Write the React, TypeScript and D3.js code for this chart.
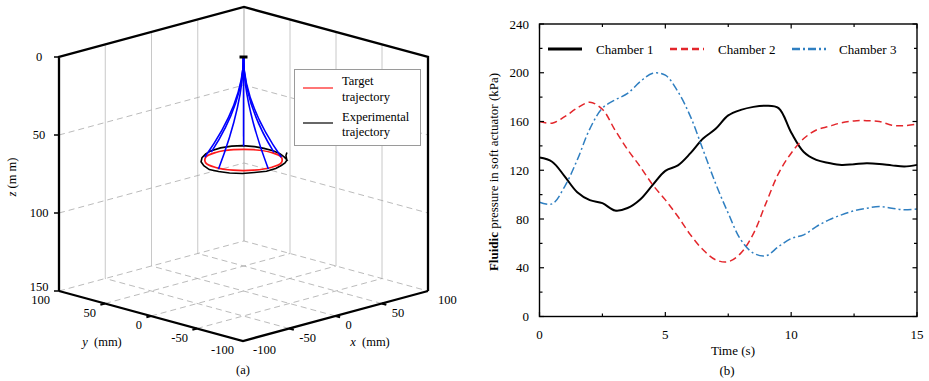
import React from 'react';
import * as d3 from 'd3';

const FONT = '"Liberation Serif", "Times New Roman", serif';

// ---------- (b) chamber pressures ----------
const time = [0, 0.5, 1, 1.5, 2, 2.5, 3, 3.5, 4, 4.5, 5, 5.5, 6, 6.5, 7, 7.5, 8, 8.5, 9, 9.5, 10, 10.5, 11, 11.5, 12, 12.5, 13, 13.5, 14, 14.5, 15];
const chamber1 = [130.4, 127, 115, 102, 95.5, 93, 87, 89, 96, 108, 119.5, 124, 134, 146, 154, 165, 169.5, 172, 173, 171, 151, 135, 128.5, 126, 124.4, 125, 125.7, 125.2, 124, 123, 124.4];
const chamber2 = [160, 158.6, 164, 171, 175.8, 170, 153, 137, 123, 108, 95.7, 82, 67, 54.7, 46.5, 45, 52, 68, 93, 117.5, 134, 146, 153, 156, 159, 160.5, 160.7, 160, 157, 156.6, 158];
const chamber3 = [93.8, 92.4, 106.6, 128.5, 154, 171, 177.7, 183, 192.7, 199.6, 198, 184.5, 164, 136.7, 109, 84.7, 62.9, 52, 49.8, 57.4, 64, 67, 73.8, 79.3, 83.4, 86.7, 88.8, 90.2, 88.8, 87.5, 88.3];
const seriesNames = ['Chamber 1', 'Chamber 2', 'Chamber 3'];
const pressureTicks = [0, 40, 80, 120, 160, 200, 240];
const pressureMinor = [20, 60, 100, 140, 180, 220];
const timeTicks = [0, 5, 10, 15];
const timeMinor = [2.5, 7.5, 12.5];

// ---------- (a) 3D trajectory ----------
const zTicks = [0, 50, 100, 150];
const yTickLabels = [100, 50, 0, -50, -100];
const xTickLabels = [-100, -50, 0, 50, 100];
const gridXY = [-50, 0, 50];
const gridZ = [50, 100];
const apex = { x: 0, y: 0, z: 0 };
const targetX = [30, 26, 15, 0, -15, -26, -30, -26, -15, 0, 15, 26];
const targetY = [0, 15, 26, 30, 26, 15, 0, -15, -26, -30, -26, -15];
const targetZ = 66;
const expX = [24, 28, 31, 33, 31, 28, 22, 15, 7, -2, -10, -18, -25, -30, -33, -32, -29, -23, -16, -7, 2, 11, 18, 23, 27, 29];
const expY = [-24, -16, -8, 1, 9, 16, 23, 28, 32, 33, 31, 27, 21, 13, 4, -5, -14, -22, -28, -32, -33, -30, -27, -24, -19, -18];
const expZ = [66.5, 66, 65.5, 65.5, 65, 64.5, 64, 64, 64.5, 65, 65.5, 66, 66.5, 67, 67.5, 67.5, 67.5, 67.5, 67, 67, 66.5, 66.5, 66.5, 66, 64.5, 63];
const tipX = [-5, -17, -30, 21, -3, 30, 26];
const tipY = [30, 25, -3, 21, -30, -3, -15];
const tipZ = [65, 65.5, 66.5, 64, 66.5, 65.5, 66];
const bendFraction = 0.45;

type P3 = [number, number, number];

function Panel3D() {
  const sxX = d3.scaleLinear().domain([-100, 100]).range([-92.5, 92.5]);
  const sxY = d3.scaleLinear().domain([-100, 100]).range([92, -92]);
  const syX = d3.scaleLinear().domain([-100, 100]).range([25, -25]);
  const syY = d3.scaleLinear().domain([-100, 100]).range([25, -25]);
  const syZ = d3.scaleLinear().domain([0, 150]).range([57, 291]);
  const cx = 243.5;
  const proj = (p: P3): [number, number] => [cx + sxX(p[0]) + sxY(p[1]), syZ(p[2]) + syX(p[0]) + syY(p[1])];
  const line3 = (pts: P3[]) => d3.line()(pts.map(proj)) as string;

  const grey = '#c8c8c8';
  const dashGrey = '#aaaaaa';

  const target: P3[] = targetX.map((x, i) => [x, targetY[i], targetZ]);
  const targetPath = d3.line().curve(d3.curveCatmullRomClosed)(target.map(proj)) as string;
  const exp: P3[] = expX.map((x, i) => [x, expY[i], expZ[i]]);
  const apexS = proj([apex.x, apex.y, apex.z]);

  const cones = tipX.map((x, i) => {
    const p = d3.path();
    const a = apexS;
    const c = proj([apex.x, apex.y, tipZ[i] * bendFraction]);
    const t = proj([x, tipY[i], tipZ[i]]);
    p.moveTo(a[0], a[1]);
    p.quadraticCurveTo(c[0], c[1], t[0], t[1]);
    return p.toString();
  });

  const fs = 12.5;
  return (
    <g fontFamily={FONT} fontSize={fs}>
      {/* wall vertical grid */}
      {gridXY.map((x) => (
        <path key={'wx' + x} d={line3([[x, 100, 0], [x, 100, 150]])} stroke={grey} strokeWidth={1} fill="none" />
      ))}
      {gridXY.map((y) => (
        <path key={'wy' + y} d={line3([[100, y, 0], [100, y, 150]])} stroke={grey} strokeWidth={1} fill="none" />
      ))}
      <path d={line3([[100, 100, 0], [100, 100, 150]])} stroke="#b5b5b5" strokeWidth={1.2} fill="none" />
      {/* wall horizontal grid */}
      {gridZ.map((z) => (
        <path key={'gz' + z} d={line3([[-100, 100, z], [100, 100, z], [100, -100, z]])} stroke={dashGrey} strokeWidth={0.8} strokeDasharray="6,4" fill="none" />
      ))}
      {/* floor grid */}
      {gridXY.map((x) => (
        <path key={'fx' + x} d={line3([[x, -100, 150], [x, 100, 150]])} stroke={dashGrey} strokeWidth={0.8} strokeDasharray="6,4" fill="none" />
      ))}
      {gridXY.map((y) => (
        <path key={'fy' + y} d={line3([[-100, y, 150], [100, y, 150]])} stroke={dashGrey} strokeWidth={0.8} strokeDasharray="6,4" fill="none" />
      ))}
      <path d={line3([[-100, 100, 150], [100, 100, 150], [100, -100, 150]])} stroke={dashGrey} strokeWidth={0.8} strokeDasharray="6,4" fill="none" />

      {/* box edges */}
      <path d={line3([[-100, 100, 150], [-100, 100, 0], [100, 100, 0], [100, -100, 0], [100, -100, 150]])} stroke="#000" strokeWidth={2.3} fill="none" strokeLinejoin="miter" />
      <path d={line3([[-100, 100, 150], [-100, -100, 150], [100, -100, 150]])} stroke="#000" strokeWidth={2.3} fill="none" />

      {/* z ticks */}
      {zTicks.map((z) => {
        const [sx, sy] = proj([-100, 100, z]);
        return (
          <g key={'zt' + z}>
            <line x1={sx - 5} x2={sx} y1={sy} y2={sy} stroke="#000" strokeWidth={1.5} />
            <text x={39} y={sy + (z === 150 ? -4 : 0)} dy="0.35em" textAnchor="middle">{z}</text>
          </g>
        );
      })}
      {/* y ticks along left floor edge */}
      {yTickLabels.map((y) => {
        const a = proj([-100, y, 150]);
        const b = proj([-105, y, 150]);
        return (
          <g key={'yt' + y}>
            {Math.abs(y) < 100 && <line x1={a[0]} y1={a[1]} x2={b[0]} y2={b[1]} stroke="#000" strokeWidth={2} />}
            <text x={a[0] - 9} y={a[1] + 9} dy="0.35em" textAnchor="end">{y}</text>
          </g>
        );
      })}
      {xTickLabels.map((x) => {
        const a = proj([x, -100, 150]);
        const b = proj([x, -105, 150]);
        return (
          <g key={'xt' + x}>
            {Math.abs(x) < 100 && <line x1={a[0]} y1={a[1]} x2={b[0]} y2={b[1]} stroke="#000" strokeWidth={2} />}
            <text x={a[0] + 10} y={a[1] + 9} dy="0.35em" textAnchor="start">{x}</text>
          </g>
        );
      })}

      {/* trajectories */}
      <path d={line3(exp)} stroke="#000" strokeWidth={1.6} fill="none" />
      <path d={targetPath} stroke="#ff1a1a" strokeWidth={1.7} fill="none" />
      {cones.map((d, i) => (
        <path key={'c' + i} d={d} stroke="#0000ff" strokeWidth={1.6} fill="none" />
      ))}
      <line x1={apexS[0] - 4} x2={apexS[0] + 4} y1={apexS[1]} y2={apexS[1]} stroke="#000" strokeWidth={3} />

      {/* axis labels */}
      <text x={102} y={342} dy="0.35em" textAnchor="middle"><tspan fontStyle="italic">y</tspan>{'\u00a0\u00a0(mm)'}</text>
      <text x={370} y={342} dy="0.35em" textAnchor="middle"><tspan fontStyle="italic">x</tspan>{'\u00a0\u00a0(mm)'}</text>
      <text transform="translate(12,177) rotate(-90)" dy="0.35em" textAnchor="middle"><tspan fontStyle="italic">z</tspan>{' (m m)'}</text>
      <text x={243} y={370} dy="0.35em" textAnchor="middle">(a)</text>

      {/* legend */}
      <rect x={294.5} y={69.5} width={126} height={76} fill="#fff" stroke="#9a9a9a" strokeWidth={1} />
      <line x1={303} x2={333} y1={88} y2={88} stroke="#ff1a1a" strokeWidth={1.2} />
      <text x={342} y={81} dy="0.35em">Target</text>
      <text x={342} y={97} dy="0.35em">trajectory</text>
      <line x1={303} x2={333} y1={123} y2={123} stroke="#000" strokeWidth={1.2} />
      <text x={342} y={117} dy="0.35em">Experimental</text>
      <text x={342} y={132} dy="0.35em">trajectory</text>
    </g>
  );
}

function PanelB() {
  const x = d3.scaleLinear().domain([0, 15]).range([539.5, 917]);
  const y = d3.scaleLinear().domain([0, 240]).range([316.5, 24]);
  const line = d3
    .line<number>()
    .x((_, i) => x(time[i]))
    .y((d) => y(d))
    .curve(d3.curveCatmullRom);
  const series = [
    { name: seriesNames[0], values: chamber1, color: '#000', width: 2, dash: undefined as string | undefined, lx: 548, tx: 596 },
    { name: seriesNames[1], values: chamber2, color: '#e3262b', width: 1.5, dash: '7,4', lx: 670, tx: 718 },
    { name: seriesNames[2], values: chamber3, color: '#2f7fc1', width: 1.5, dash: '8,3,2,3', lx: 792, tx: 839 },
  ];
  const [x0, x1] = x.range();
  const [y0, y1] = y.range();
  const major = 4.5;
  const minor = 3;
  return (
    <g fontFamily={FONT} fontSize={13}>
      {series.map((s) => (
        <path key={s.name} d={line(s.values) as string} fill="none" stroke={s.color} strokeWidth={s.width} strokeDasharray={s.dash} />
      ))}
      <rect x={x0} y={y1} width={x1 - x0} height={y0 - y1} fill="none" stroke="#000" strokeWidth={1.4} />
      {timeTicks.concat(timeMinor).map((t) => {
        const len = timeMinor.includes(t) ? minor : major;
        return (
          <g key={'tt' + t}>
            <line x1={x(t)} x2={x(t)} y1={y0} y2={y0 - len} stroke="#000" strokeWidth={1.2} />
            <line x1={x(t)} x2={x(t)} y1={y1} y2={y1 + len} stroke="#000" strokeWidth={1.2} />
          </g>
        );
      })}
      {pressureTicks.concat(pressureMinor).map((p) => {
        const len = pressureMinor.includes(p) ? minor : major;
        return (
          <g key={'pt' + p}>
            <line x1={x0} x2={x0 + len} y1={y(p)} y2={y(p)} stroke="#000" strokeWidth={1.2} />
            <line x1={x1} x2={x1 - len} y1={y(p)} y2={y(p)} stroke="#000" strokeWidth={1.2} />
          </g>
        );
      })}
      {timeTicks.map((t) => (
        <text key={'tl' + t} x={x(t)} y={334} dy="0.35em" textAnchor="middle">{t}</text>
      ))}
      {pressureTicks.map((p) => (
        <text key={'pl' + p} x={529} y={y(p)} dy="0.35em" textAnchor="end">{p}</text>
      ))}
      {series.map((s) => (
        <g key={'lg' + s.name}>
          <line x1={s.lx} x2={s.lx + 34} y1={49} y2={49} stroke={s.color} strokeWidth={s.width + 0.8} strokeDasharray={s.dash} />
          <text x={s.tx} y={49} dy="0.35em">{s.name}</text>
        </g>
      ))}
      <text x={733} y={350} dy="0.35em" textAnchor="middle">Time (s)</text>
      <text x={727} y={370} dy="0.35em" textAnchor="middle">(b)</text>
      <text transform="translate(493,172) rotate(-90)" dy="0.35em" textAnchor="middle">
        <tspan fontWeight="bold">Fluidic</tspan> pressure in soft actuator (kPa)
      </text>
    </g>
  );
}

export default function App() {
  return (
    <svg width={929} height={381} style={{ position: 'absolute', left: 0, top: 0, background: '#fff' }}>
      <rect width={929} height={381} fill="#fff" />
      <Panel3D />
      <PanelB />
    </svg>
  );
}
